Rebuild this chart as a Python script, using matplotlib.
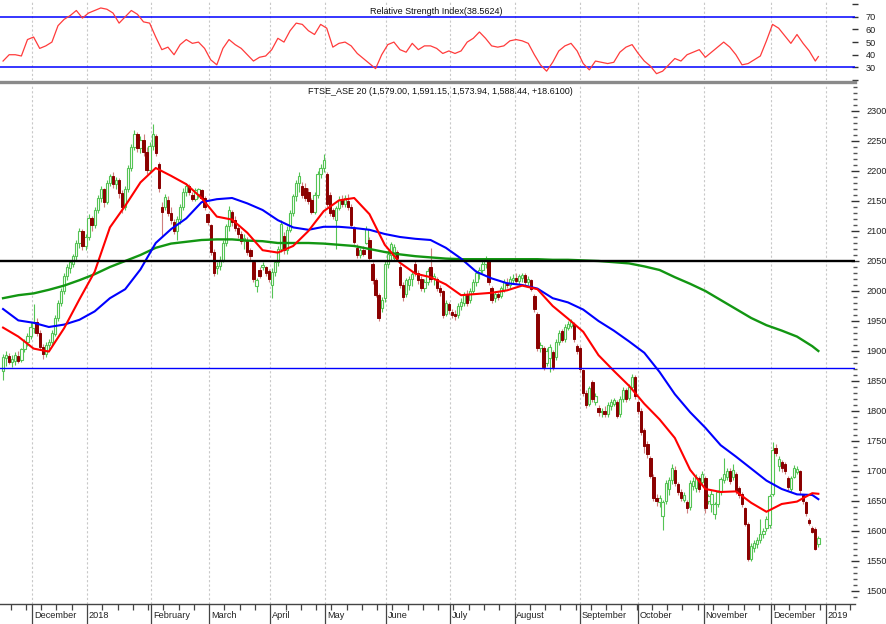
import matplotlib
matplotlib.use('Agg')
import matplotlib.pyplot as plt
import matplotlib.transforms as mtransforms
from matplotlib.lines import Line2D
from matplotlib import font_manager
import numpy as np

# ---------------- data ----------------
opens = [1866,1888,1892,1882,1883,1892,1885,1903,1915,1925,
         1938,1948,1930,1906,1895,1910,1915,1928,1955,1980,
         2000,2025,2038,2045,2058,2080,2100,2075,2090,2122,
         2110,2135,2155,2170,2148,2180,2192,2178,2185,2163,
         2140,2170,2205,2240,2262,2238,2252,2232,2202,2242,
         2258,2212,2140,2140,2152,2130,2115,2100,2120,2140,
         2165,2175,2160,2153,2162,2168,2155,2128,2110,2065,
         2038,2042,2052,2080,2108,2132,2118,2105,2095,2083,
         2085,2068,2048,2008,2035,2040,2040,2033,2010,2032,
         2048,2070,2092,2068,2102,2130,2158,2180,2175,2172,
         2165,2152,2132,2160,2195,2205,2195,2160,2135,2118,
         2138,2152,2145,2150,2140,2105,2072,2060,2068,2080,
         2085,2045,2018,1993,1972,1988,2045,2060,2055,2065,
         2040,2010,1995,2010,2020,2045,2030,2020,2005,2015,
         2040,2022,2020,2005,2000,1962,1978,1965,1962,1960,
         1975,1980,1995,1985,2000,2015,2030,2035,2045,2050,
         2005,1988,1995,1992,2002,2012,2010,2018,2022,2016,
         2022,2026,2015,2018,1992,1962,1905,1905,1880,1888,
         1898,1890,1915,1933,1920,1938,1942,1945,1908,1905,
         1868,1830,1812,1848,1815,1805,1798,1800,1795,1808,
         1812,1815,1795,1820,1835,1822,1840,1856,1815,1800,
         1768,1745,1722,1690,1655,1648,1625,1650,1670,1685,
         1702,1678,1665,1652,1648,1640,1675,1672,1688,1682,
         1688,1650,1645,1628,1645,1665,1685,1690,1700,1690,
         1695,1672,1662,1638,1612,1553,1572,1578,1585,1595,
         1605,1610,1662,1738,1708,1715,1712,1688,1670,1690,
         1698,1700,1660,1648,1618,1605,1604,1579.00]
highs = [1895,1900,1897,1893,1898,1900,1905,1920,1930,1948,
         1978,1955,1935,1912,1915,1920,1935,1960,1985,2005,
         2030,2045,2052,2062,2085,2105,2103,2095,2128,2125,
         2140,2160,2175,2172,2185,2195,2198,2190,2188,2168,
         2175,2210,2245,2268,2265,2258,2262,2240,2248,2278,
         2262,2215,2148,2162,2158,2140,2120,2125,2145,2172,
         2180,2178,2165,2172,2172,2170,2158,2130,2112,2070,
         2048,2058,2085,2112,2142,2135,2125,2112,2100,2095,
         2090,2072,2052,2022,2040,2048,2042,2036,2038,2052,
         2075,2118,2098,2108,2135,2162,2185,2198,2182,2180,
         2172,2155,2165,2200,2212,2228,2198,2165,2138,2142,
         2158,2160,2160,2162,2145,2108,2078,2072,2075,2108,
         2090,2048,2022,1996,1990,2050,2068,2082,2078,2068,
         2045,2015,2022,2025,2032,2052,2035,2025,2020,2038,
         2072,2030,2024,2010,2002,1985,1982,1970,1968,1980,
         1988,1998,2002,2005,2020,2035,2040,2050,2058,2055,
         2008,2000,1998,2008,2020,2022,2025,2028,2030,2028,
         2030,2030,2025,2020,1995,1965,1915,1908,1905,1912,
         1902,1920,1935,1936,1945,1950,1953,1948,1912,1908,
         1870,1835,1842,1852,1830,1810,1805,1808,1815,1820,
         1822,1818,1825,1840,1838,1845,1862,1860,1818,1805,
         1772,1750,1725,1695,1662,1660,1652,1685,1690,1712,
         1708,1682,1670,1665,1652,1685,1690,1695,1692,1700,
         1692,1662,1668,1648,1668,1690,1722,1705,1705,1712,
         1698,1675,1665,1640,1615,1580,1585,1590,1620,1605,
         1625,1662,1748,1745,1725,1718,1715,1692,1692,1710,
         1708,1702,1662,1650,1622,1608,1606,1591.15]
lows = [1852,1875,1878,1874,1877,1880,1882,1898,1908,1920,
        1930,1925,1902,1887,1890,1903,1910,1925,1950,1975,
        1995,2018,2030,2040,2052,2072,2068,2068,2085,2100,
        2105,2130,2148,2140,2145,2175,2172,2170,2155,2130,
        2135,2165,2200,2235,2232,2230,2225,2195,2198,2235,
        2225,2165,2090,2135,2125,2112,2095,2085,2112,2135,
        2158,2160,2150,2150,2155,2150,2135,2110,2060,2025,
        2028,2035,2048,2075,2100,2108,2100,2088,2078,2070,
        2060,2052,2015,1998,2022,2035,2025,2015,1988,2025,
        2042,2065,2062,2062,2098,2125,2150,2165,2155,2150,
        2145,2128,2128,2155,2188,2198,2140,2125,2120,2070,
        2135,2140,2140,2135,2105,2078,2055,2055,2058,2078,
        2050,2012,1990,1950,1965,1982,2038,2052,2050,2052,
        2005,1983,1990,2002,2008,2025,2012,2000,1998,2010,
        2015,2010,2000,1992,1955,1958,1962,1955,1952,1955,
        1968,1975,1975,1980,1995,2008,2020,2030,2038,2010,
        1980,1982,1985,1988,1998,2005,2005,2012,2012,2010,
        2015,2010,2010,2000,1965,1900,1898,1868,1875,1865,
        1868,1885,1910,1915,1915,1935,1938,1915,1895,1865,
        1825,1805,1808,1815,1810,1792,1790,1790,1790,1802,
        1808,1788,1790,1815,1815,1818,1835,1820,1795,1760,
        1730,1722,1688,1650,1642,1640,1602,1645,1660,1678,
        1675,1660,1650,1648,1630,1635,1668,1665,1665,1678,
        1630,1645,1632,1620,1640,1660,1680,1685,1678,1685,
        1662,1655,1640,1608,1550,1550,1565,1572,1580,1588,
        1600,1605,1658,1725,1700,1698,1695,1668,1665,1688,
        1695,1662,1645,1625,1610,1596,1568,1573.94]
closes = [1890,1893,1882,1886,1893,1884,1903,1917,1925,1940,
          1948,1930,1907,1895,1910,1915,1930,1955,1980,2000,
          2025,2040,2048,2058,2080,2100,2075,2090,2122,2110,
          2135,2155,2170,2148,2180,2192,2178,2185,2163,2140,
          2170,2205,2240,2262,2238,2252,2232,2202,2242,2262,
          2230,2172,2132,2157,2130,2118,2100,2120,2140,2165,
          2175,2165,2153,2168,2170,2155,2140,2115,2065,2030,
          2042,2052,2080,2108,2135,2115,2105,2095,2083,2088,
          2065,2058,2020,2018,2025,2043,2030,2020,2032,2048,
          2070,2112,2068,2102,2130,2158,2180,2192,2160,2155,
          2150,2132,2160,2195,2205,2218,2145,2130,2125,2138,
          2152,2145,2155,2140,2110,2082,2060,2068,2062,2104,
          2055,2018,1993,1955,1985,2045,2062,2078,2073,2055,
          2010,1990,2018,2020,2028,2030,2018,2005,2015,2033,
          2020,2025,2005,1998,1960,1980,1968,1960,1958,1975,
          1982,1995,1980,2000,2015,2030,2035,2045,2050,2015,
          1985,1995,1990,2005,2015,2010,2020,2022,2016,2025,
          2026,2015,2020,2003,1970,1905,1910,1874,1900,1906,
          1873,1915,1930,1918,1940,1945,1948,1920,1900,1870,
          1830,1810,1838,1820,1825,1798,1800,1795,1810,1815,
          1818,1792,1820,1835,1820,1840,1856,1825,1800,1765,
          1742,1728,1692,1655,1650,1655,1648,1680,1685,1705,
          1680,1665,1655,1660,1638,1680,1684,1690,1670,1695,
          1638,1658,1662,1645,1665,1686,1695,1700,1683,1702,
          1667,1660,1645,1612,1553,1575,1580,1585,1595,1600,
          1620,1658,1735,1730,1720,1705,1700,1673,1688,1705,
          1704,1668,1650,1630,1614,1598,1570,1588.44]

# moving averages read every 5th session (plus last session)
ma_red = [1939,1924,1904,1899,1938,1986,2032,2106,2142,2181,
          2205,2192,2178,2155,2124,2119,2097,2068,2064,2075,
          2100,2133,2151,2155,2128,2077,2047,2029,2023,2011,
          1993,1995,1997,2001,2009,2003,1975,1954,1932,1893,
          1867,1842,1812,1786,1755,1702,1670,1665,1666,1647,
          1632,1645,1649,1663,1662]
ma_blue = [1970,1951,1947,1940,1944,1952,1966,1988,2003,2036,
           2080,2103,2121,2148,2153,2155,2146,2135,2118,2106,
           2102,2107,2107,2105,2102,2095,2090,2087,2085,2072,
           2054,2032,2021,2013,2010,2004,1988,1981,1969,1950,
           1934,1916,1897,1865,1828,1798,1772,1743,1724,1704,
           1684,1670,1661,1660,1653]
ma_green = [1988,1993,1996,2002,2009,2018,2028,2040,2050,2060,
            2072,2079,2082,2085,2086,2086,2084,2083,2080,2080,
            2080,2079,2077,2075,2070,2065,2061,2058,2056,2054,
            2053,2053,2053,2053,2053,2053,2052,2052,2051,2050,
            2048,2046,2041,2035,2023,2012,2000,1985,1970,1955,
            1943,1934,1924,1908,1900]

# RSI read every 2nd session (plus last session)
rsi = [35,40,40,39,52,54,45,47,50,63,
       68,71,75,69,73,75,77,76,73,65,
       70,75,72,66,65,54,44,46,40,48,
       52,49,50,45,36,32,45,52,48,45,
       40,35,38,39,44,53,50,59,65,64,
       59,56,64,61,46,49,50,47,41,37,
       33,29,40,48,50,44,42,49,44,47,
       47,45,41,43,41,43,50,53,58,53,
       47,46,47,51,52,51,49,40,32,27,
       34,43,47,49,43,33,28,35,34,33,
       34,42,46,48,41,35,31,25,27,32,
       37,35,40,42,44,38,42,46,50,46,
       40,32,33,36,39,51,64,61,55,49,
       56,49,43,35,38.5624]

support_level = 1872
resistance_level = 2050
rsi_levels = [70, 30]

month_labels = ['December', '2018', 'February', 'March', 'April', 'May', 'June',
                'July', 'August', 'September', 'October', 'November', 'December', '2019']
month_start = [9.5, 27.5, 48.5, 67.5, 87.5, 105.5, 125.5, 146.5, 167.5, 189,
               208, 229.5, 251.5, 269.5]

main_title = 'FTSE_ASE 20 (1,579.00, 1,591.15, 1,573.94, 1,588.44, +18.6100)'
rsi_title = 'Relative Strength Index(38.5624)'

# ---------------- style ----------------
avail = {f.name for f in font_manager.fontManager.ttflist}
fam = [f for f in ['Liberation Sans Narrow', 'Liberation Sans', 'DejaVu Sans'] if f in avail]
plt.rcParams['font.family'] = fam

W, H = 886, 624
fig = plt.figure(figsize=(W / 100, H / 100), dpi=100)
fig.patch.set_facecolor('white')

def fy(py):
    return 1 - py / H

right_px = 855
ax_r = fig.add_axes([0, fy(80), right_px / W, 80 / H])
ax = fig.add_axes([0, fy(604), right_px / W, 520 / H])

n = len(closes)
xs = np.arange(n)
xlim = (-1, 279)

UP_EDGE = '#55c455'
DOWN_FILL = '#8b0000'
DOWN_WICK = '#cf7f7f'

o = np.array(opens, float); c = np.array(closes, float)
h = np.array(highs, float); l = np.array(lows, float)
up = c >= o

# wicks
ax.vlines(xs[up], l[up], h[up], color=UP_EDGE, lw=0.8, zorder=2)
ax.vlines(xs[~up], l[~up], h[~up], color=DOWN_WICK, lw=0.8, zorder=2)
# bodies
bw = 0.75
ax.bar(xs[up], np.maximum(c[up] - o[up], 0.8), bottom=o[up], width=bw,
       facecolor='white', edgecolor=UP_EDGE, linewidth=0.8, zorder=3)
ax.bar(xs[~up], np.maximum(o[~up] - c[~up], 0.8), bottom=c[~up], width=bw,
       facecolor=DOWN_FILL, edgecolor=DOWN_FILL, linewidth=0.7, zorder=3)

ma_x = list(range(0, n, 5)) + [n - 1]
ax.plot(ma_x, ma_green, color='#129612', lw=1.7, zorder=4)
ax.plot(ma_x, ma_blue, color='#0000ff', lw=1.5, zorder=5)
ax.plot(ma_x, ma_red, color='#ff0000', lw=1.5, zorder=6)

ax.axhline(resistance_level, color='black', lw=1.7, zorder=7)
ax.axhline(support_level, color='#0000ff', lw=1.0, zorder=7)

for m in month_start:
    ax.axvline(m, color='#c8c8c8', lw=0.8, ls=(0, (2, 2)), zorder=0)
    ax_r.axvline(m, color='#c8c8c8', lw=0.8, ls=(0, (2, 2)), zorder=0)

ax.set_xlim(*xlim)
ax.set_ylim(1478.3, 2345)
ax.set_facecolor('white')
for s in ['top', 'left', 'right']:
    ax.spines[s].set_visible(False)
ax.spines['bottom'].set_color('#444444')
ax.spines['bottom'].set_linewidth(1.0)

ax.yaxis.tick_right()
ax.set_yticks(np.arange(1500, 2301, 50))
ax.set_yticks(np.arange(1490, 2341, 10), minor=True)
ax.tick_params(axis='y', which='major', direction='inout', length=6, width=1,
               colors='#333333', labelsize=6.6, pad=5)
ax.tick_params(axis='y', which='minor', direction='inout', length=3, width=1,
               colors='#555555')
ax.tick_params(axis='y', which='major', labelcolor='#222222')

ax.set_xticks(month_start)
ax.set_xticklabels([''] * len(month_start))
ax.set_xticks(np.arange(2.5, 279, 5), minor=True)
ax.tick_params(axis='x', which='major', direction='out', length=15, width=0.9, colors='#444444')
ax.tick_params(axis='x', which='minor', direction='out', length=4, width=0.9, colors='#444444')
trans = mtransforms.blended_transform_factory(ax.transData, ax.transAxes)
for m, lab in zip(month_start, month_labels):
    ax.text(m + 0.6, -0.023, lab, transform=trans, ha='left', va='center',
            fontsize=6.6, color='#222222')

ax.text(0.515, (604 - 92) / 520, main_title, transform=ax.transAxes,
        ha='center', va='center', fontsize=6.5, color='#111111')

# RSI panel
rsi_x = list(range(0, n, 2)) + [n - 1]
ax_r.plot(rsi_x, rsi, color='#ff3b3b', lw=0.9, zorder=3)
for lv in rsi_levels:
    ax_r.axhline(lv, color='#0000ff', lw=1.1, zorder=2)
ax_r.set_xlim(*xlim)
ax_r.set_ylim(20.6, 83.3)
for s in ax_r.spines.values():
    s.set_visible(False)
ax_r.set_xticks([])
ax_r.yaxis.tick_right()
ax_r.set_yticks([20, 30, 40, 50, 60, 70, 80])
ax_r.set_yticklabels(['', '30', '40', '50', '60', '70', ''])
ax_r.tick_params(axis='y', direction='inout', length=5, width=1, colors='#333333',
                 labelsize=6.6, pad=5)
ax_r.tick_params(axis='y', labelcolor='#222222')
ax_r.text(0.51, (80 - 11) / 80, rsi_title, transform=ax_r.transAxes,
          ha='center', va='center', fontsize=6.5, color='#111111')

# separator between panels
fig.add_artist(Line2D([0, right_px / W], [fy(82), fy(82)], color='#8a8a8a', lw=2.4,
                      transform=fig.transFigure))

fig.savefig('out.png', dpi=100, facecolor='white')
